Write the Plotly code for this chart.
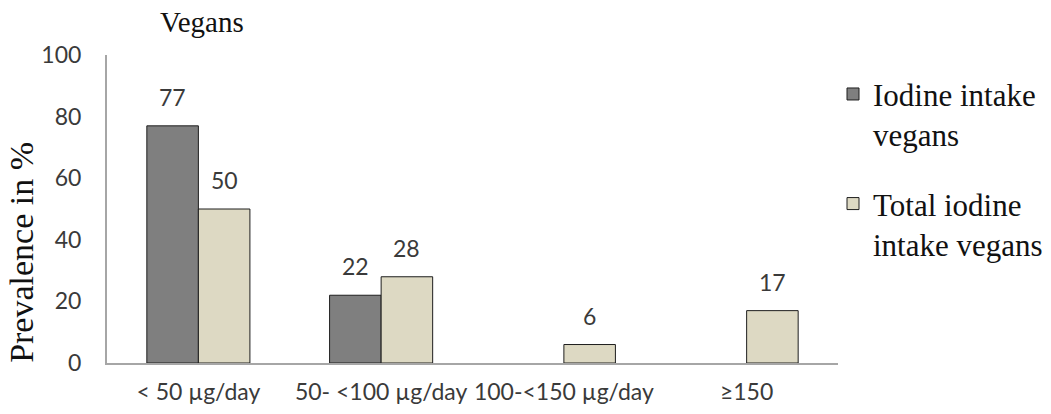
import plotly.graph_objects as go

categories = ["< 50 µg/day", "50- <100 µg/day", "100-<150 µg/day", "≥150"]
iodine_intake = [77, 22, None, None]
total_iodine_intake = [50, 28, 6, 17]
series_names = ["Iodine intake<br>vegans", "Total iodine<br>intake vegans"]
y_ticks = [0, 20, 40, 60, 80, 100]

BARGAP = 0.436
TICK_FONT = dict(family="Lato", size=23, color="#3a3a3a")
SERIF = "Liberation Serif"

fig = go.Figure()
fig.add_trace(go.Bar(
    x=categories, y=iodine_intake, name=series_names[0], legendgroup="a",
    marker=dict(color="#7f7f7f", line=dict(color="#1e1e1e", width=1)),
))
fig.add_trace(go.Bar(
    x=categories, y=total_iodine_intake, name=series_names[1], legendgroup="b",
    marker=dict(color="#ddd9c3", line=dict(color="#1e1e1e", width=1)),
))

# data labels above bars
plot_w = 1051 - 107 - 213
cat_px = plot_w / len(categories)
bar_px = cat_px * (1 - BARGAP) / 2
annotations = []
for vals, shift in ((iodine_intake, -bar_px / 2), (total_iodine_intake, bar_px / 2)):
    for c, v in zip(categories, vals):
        if v is None:
            continue
        annotations.append(dict(
            x=c, y=v, xref="x", yref="y", text=str(v), showarrow=False,
            xanchor="center", yanchor="bottom", xshift=shift, yshift=13,
            font=TICK_FONT,
        ))

annotations.append(dict(
    text="Prevalence in %", textangle=-90, showarrow=False,
    xref="paper", yref="paper", x=-0.118, y=0.36,
    xanchor="center", yanchor="middle",
    font=dict(family=SERIF, size=34, color="#111111"),
))

fig.update_layout(
    width=1051, height=414,
    margin=dict(l=107, r=213, t=55, b=51, pad=0, autoexpand=False),
    paper_bgcolor="white", plot_bgcolor="white",
    barmode="group", bargap=BARGAP, bargroupgap=0,
    title=dict(text="Vegans", x=160 / 1051, xref="container", xanchor="left",
               y=1 - 22 / 414, yref="container", yanchor="middle",
               font=dict(family=SERIF, size=29, color="#111111")),
    xaxis=dict(showline=True, linecolor="#a6a6a6", linewidth=2, ticks="",
               showgrid=False, zeroline=False, tickfont=TICK_FONT,
               ticklabelstandoff=7, automargin=False),
    yaxis=dict(range=[0, 100], tickvals=y_ticks, showline=True, linecolor="#a6a6a6",
               linewidth=2, ticks="", showgrid=False, zeroline=False,
               tickfont=TICK_FONT, ticklabelstandoff=19, automargin=False),
    legend=dict(x=(833 - 107) / 731, xanchor="left", y=0.96, yanchor="top", valign="top",
                font=dict(family=SERIF, size=31, color="#111111"),
                tracegroupgap=26, bgcolor="rgba(0,0,0,0)"),
    annotations=annotations,
    showlegend=True,
)

fig.write_html("out.html")
